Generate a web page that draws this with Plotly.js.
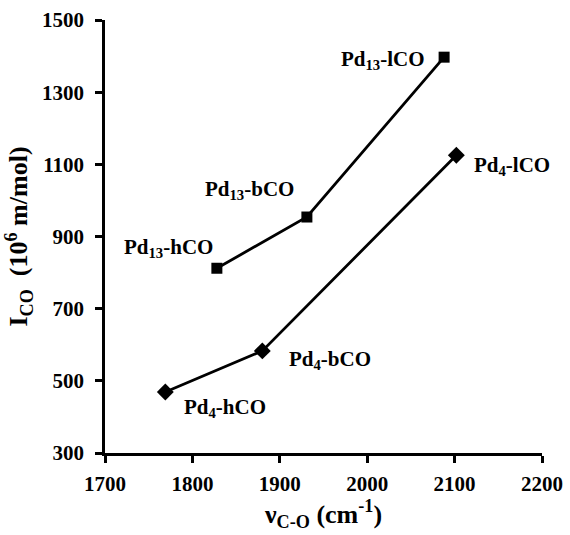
<!DOCTYPE html>
<html><head><meta charset="utf-8">
<script src="https://cdn.plot.ly/plotly-3.0.1.min.js"></script>
<style>body{margin:0;background:#fff}#c{width:570px;height:535px}</style>
</head><body><div id="c"></div>
<script>
const pd13Labels = ['Pd<sub>13</sub>-hCO','Pd<sub>13</sub>-bCO','Pd<sub>13</sub>-lCO'];
const pd13X = [1828, 1931, 2088];
const pd13Y = [812, 954, 1397];
const pd4Labels = ['Pd<sub>4</sub>-hCO','Pd<sub>4</sub>-bCO','Pd<sub>4</sub>-lCO'];
const pd4X = [1769, 1880, 2102];
const pd4Y = [469, 583, 1125];
const xTicks = [1700,1800,1900,2000,2100,2200];
const yTicks = [300,500,700,900,1100,1300,1500];

const font = 'Liberation Serif, Times New Roman, serif';
const traces = [
  {x: pd13X, y: pd13Y, mode:'lines+markers', line:{color:'#000',width:2.8},
   marker:{symbol:'square',size:11,color:'#000'}},
  {x: pd4X, y: pd4Y, mode:'lines+markers', line:{color:'#000',width:2.8},
   marker:{symbol:'diamond',size:13,color:'#000'}}
];
const pd13Pos = [{xa:'center',xs:-48,ys:20},{xa:'center',xs:-57,ys:27},{xa:'right',xs:-17,ys:-3}];
const pd4Pos = [{xa:'left',xs:17,ys:-16},{xa:'left',xs:25,ys:-9},{xa:'left',xs:16,ys:-11}];
const annotations = [];
pd13Labels.forEach((t,i)=>annotations.push({x:pd13X[i],y:pd13Y[i],xref:'x',yref:'y',text:'<b>'+t+'</b>',showarrow:false,
  xanchor:pd13Pos[i].xa,yanchor:'middle',xshift:pd13Pos[i].xs,yshift:pd13Pos[i].ys,font:{family:font,size:21,color:'#000'}}));
pd4Labels.forEach((t,i)=>annotations.push({x:pd4X[i],y:pd4Y[i],xref:'x',yref:'y',text:'<b>'+t+'</b>',showarrow:false,
  xanchor:pd4Pos[i].xa,yanchor:'middle',xshift:pd4Pos[i].xs,yshift:pd4Pos[i].ys,font:{family:font,size:21,color:'#000'}}));

const layout = {
  width:570, height:535, showlegend:false,
  margin:{l:105,r:28,t:20,b:82},
  paper_bgcolor:'#fff', plot_bgcolor:'#fff',
  font:{family:font,color:'#000'},
  xaxis:{range:[1700,2200], tickvals:xTicks, ticktext:xTicks.map(v=>'<b>'+v+'</b>'),
    showgrid:false, zeroline:false, showline:true, linecolor:'#000', linewidth:2.5,
    ticks:'outside', ticklen:7, tickwidth:2.5, tickcolor:'#000', ticklabelstandoff:3,
    tickfont:{family:font,size:21,color:'#000'},
    title:{text:'<b>ν<sub>C-O</sub> (cm<sup>-1</sup>)</b>', font:{family:font,size:26,color:'#000'}, standoff:7}},
  yaxis:{range:[300,1500], tickvals:yTicks, ticktext:yTicks.map(v=>'<b>'+v+'</b>'),
    showgrid:false, zeroline:false, showline:true, linecolor:'#000', linewidth:2.5,
    ticks:'outside', ticklen:7, tickwidth:2.5, tickcolor:'#000', ticklabelstandoff:7,
    tickfont:{family:font,size:21,color:'#000'},
    title:{text:'<b>I<sub>CO</sub>  (10<sup>6</sup> m/mol)</b>', font:{family:font,size:26,color:'#000'}, standoff:7}},
  annotations: annotations
};
Plotly.newPlot('c', traces, layout, {displayModeBar:false});
</script></body></html>
